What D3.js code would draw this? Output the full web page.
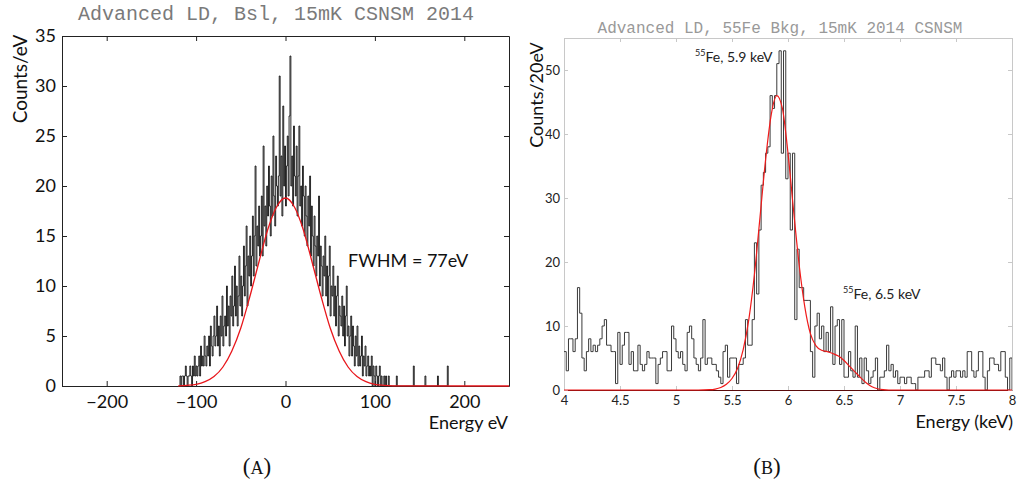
<!DOCTYPE html>
<html><head><meta charset="utf-8">
<script src="https://cdn.jsdelivr.net/npm/d3@7"></script>
<style>body{margin:0;background:#fff}svg{display:block}</style>
</head><body>
<svg id="chart" width="1022" height="483"></svg>
<script>
// ---------------- DATA ----------------
// Panel A: baseline histogram, 1 eV bins starting at -118 eV
const leftStart = -118;
const leftCounts = [
  1,0,1,1,0,1,2,1,0,1,
  1,2,1,0,2,1,3,1,2,1,
  2,3,1,4,2,3,2,5,3,2,
  4,3,5,2,6,4,3,5,7,4,
  5,8,4,6,3,7,5,9,4,6,
  7,5,10,6,8,4,9,7,11,6,
  8,12,7,10,6,9,13,8,11,7,
  10,14,9,12,16,8,13,11,15,10,
  13,17,11,15,22,12,16,14,18,13,
  15,19,13,24,16,18,14,20,17,22,
  18,15,21,17,25,19,16,23,20,18,
  21,31,19,23,17,28,20,24,18,22,
  25,19,27,33,20,23,18,26,21,19,
  24,17,21,26,18,20,16,22,19,15,
  20,17,14,19,16,21,13,18,15,12,
  17,14,11,15,13,19,10,14,12,9,
  13,11,15,9,12,8,11,14,7,10,
  9,12,7,10,6,9,11,5,8,7,
  6,9,5,8,4,7,10,5,6,3,
  5,7,3,6,4,2,5,3,6,2,
  4,2,3,5,1,3,2,4,1,2,
  3,1,2,1,3,0,2,1,0,2,
  1,0,1,2,0,1,0,0,1,0,
  1,0,0,1,0,0,0
];
const leftTailEnergies = [124, 143, 156, 170, 181];
const leftTailCounts   = [1, 2, 1, 1, 2];
const leftFitEnergy = [-120,-110,-100,-90,-80,-70,-60,-50,-40,-30,-20,-10,0,10,20,30,40,50,60,70,80,90,100,110,120,250];
const leftFitCounts = [0.02,0.07,0.17,0.43,0.94,1.9,3.5,5.8,8.9,12.3,15.6,17.9,18.8,17.9,15.6,12.3,8.9,5.8,3.5,1.9,0.94,0.43,0.17,0.07,0.02,0];
const leftXTicks = [-200,-100,0,100,200];
const leftYTicks = [0,5,10,15,20,25,30,35];

// Panel B: 55Fe spectrum, 20 eV bins from 4 keV
const rightStart = 4.0, rightBin = 0.02;
const rightCounts = [
  6,3,8,8,6,8,16,12,5,3,
  6,8,6,7,6,7,8,10,11,7,
  7,6,6,1,9,4,7,9,9,4,
  6,3,3,7,4,3,4,6,5,5,
  5,1,4,5,6,6,3,3,10,8,
  6,5,6,4,3,9,10,8,5,4,
  3,5,11,4,5,5,4,4,3,2,
  1,6,7,2,5,5,5,1,4,4,
  5,11,7,7,11,23,15,25,32,34,
  37,38,46,44,46,51,53,37,53,33,
  37,25,37,11,22,16,16,14,14,14,
  6,2,10,12,8,10,6,9,6,13,
  4,10,11,4,11,2,2,6,3,2,
  10,2,5,1,5,3,1,2,3,5,
  0,2,2,3,7,3,4,2,3,1,
  2,2,1,2,2,1,1,0,2,2,
  2,3,3,2,5,5,4,4,3,5,
  2,0,2,3,2,3,3,2,3,2,
  6,6,3,2,3,6,6,2,0,3,
  5,5,4,4,3,6,6,2,0,5
];
const rightFitEnergy = [4,5.2,5.3,5.35,5.4,5.45,5.5,5.55,5.6,5.65,5.7,5.75,5.8,5.85,5.9,5.95,6.0,6.05,6.1,6.15,6.2,6.25,6.3,6.35,6.4,6.45,6.5,6.55,6.6,6.65,6.7,6.75,6.8,6.85,6.9,8];
const rightFitCounts = [0,0,0.05,0.15,0.4,0.9,1.8,3.4,6.3,11,18,27,36,43,46,44,37,28,19.5,13,8.8,6.9,6.2,6.0,5.7,5.3,4.6,3.7,2.8,1.9,1.1,0.5,0.2,0.05,0,0];
const rightXTicks = [4,4.5,5,5.5,6,6.5,7,7.5,8];
const rightYTicks = [0,10,20,30,40,50];

// ---------------- DRAW ----------------
const svg = d3.select("#chart");
const sans = "Lato, 'Open Sans', sans-serif";
const mono = "'Liberation Mono', 'DejaVu Sans Mono', monospace";
const serif = "'Liberation Serif', 'DejaVu Serif', serif";
const fmt = d3.format("~g");

// ===== Panel A =====
const L = {x0: 62, x1: 509, y0: 36, y1: 386};
const xL = d3.scaleLinear().domain([-250, 250]).range([L.x0, L.x1]);
const yL = d3.scaleLinear().domain([0, 35]).range([L.y1, L.y0]);

svg.append("clipPath").attr("id", "clipL").append("rect")
  .attr("x", L.x0).attr("y", L.y0).attr("width", L.x1 - L.x0).attr("height", L.y1 - L.y0);

const tailMap = new Map(leftTailEnergies.map((e, i) => [e, leftTailCounts[i]]));
const lastE = d3.max(leftTailEnergies);
const leftBins = [[leftStart, 0]];
for (let e = leftStart; e <= lastE; e++) {
  const k = e - leftStart;
  const c = k < leftCounts.length ? leftCounts[k] : (tailMap.get(e) || 0);
  leftBins.push([e, c]);
}
leftBins.push([lastE + 1, 0]);

const gL = svg.append("g");
gL.append("path")
  .attr("clip-path", "url(#clipL)")
  .attr("d", d3.line().x(d => xL(d[0])).y(d => yL(d[1])).curve(d3.curveStepAfter)(leftBins))
  .attr("fill", "none").attr("stroke", "#111").attr("stroke-width", 0.9);

const axBL = gL.append("g").attr("transform", `translate(0,${L.y1})`)
  .call(d3.axisBottom(xL).tickValues(leftXTicks).tickFormat(fmt).tickSizeInner(-5).tickSizeOuter(0).tickPadding(9));
const axTL = gL.append("g").attr("transform", `translate(0,${L.y0})`)
  .call(d3.axisTop(xL).tickValues(leftXTicks).tickFormat("").tickSizeInner(-5).tickSizeOuter(0));
const axLL = gL.append("g").attr("transform", `translate(${L.x0},0)`)
  .call(d3.axisLeft(yL).tickValues(leftYTicks).tickFormat(fmt).tickSizeInner(-5).tickSizeOuter(0).tickPadding(6));
const axRL = gL.append("g").attr("transform", `translate(${L.x1},0)`)
  .call(d3.axisRight(yL).tickValues(leftYTicks).tickFormat("").tickSizeInner(-5).tickSizeOuter(0));
[axBL, axTL, axLL, axRL].forEach(a => {
  a.selectAll(".domain").attr("stroke", "#222");
  a.selectAll(".tick line").attr("stroke", "#222");
  a.selectAll("text").attr("font-family", sans).attr("font-size", 18).attr("fill", "#111");
});

gL.append("path")
  .attr("d", d3.line().x((d, i) => xL(leftFitEnergy[i])).y(d => yL(d)).curve(d3.curveMonotoneX)(leftFitCounts))
  .attr("fill", "none").attr("stroke", "#e8161b").attr("stroke-width", 1.3);

gL.append("text").attr("x", 276).attr("y", 20).attr("text-anchor", "middle")
  .attr("font-family", mono).attr("font-size", 20).attr("fill", "#7a7a7a")
  .text("Advanced LD, Bsl, 15mK CSNSM 2014");
gL.append("text").attr("transform", "translate(26.5,79) rotate(-90)").attr("text-anchor", "middle")
  .attr("font-family", sans).attr("font-size", 19).attr("fill", "#111").text("Counts/eV");
gL.append("text").attr("x", 508).attr("y", 429).attr("text-anchor", "end")
  .attr("font-family", sans).attr("font-size", 18).attr("fill", "#111").text("Energy eV");
gL.append("text").attr("x", 348).attr("y", 267)
  .attr("font-family", sans).attr("font-size", 18).attr("fill", "#111").text("FWHM = 77eV");
const capA = gL.append("text").attr("x", 257).attr("y", 474).attr("text-anchor", "middle")
  .attr("font-family", serif).attr("font-size", 23).attr("fill", "#111");
capA.append("tspan").text("(");
capA.append("tspan").attr("font-size", 18).text("A");
capA.append("tspan").text(")");

// ===== Panel B =====
const R = {x0: 564, x1: 1012, y0: 38, y1: 390};
const xR = d3.scaleLinear().domain([4, 8]).range([R.x0, R.x1]);
const yR = d3.scaleLinear().domain([0, 55]).range([R.y1, R.y0]);
const gR = svg.append("g");

svg.append("clipPath").attr("id", "clipR").append("rect")
  .attr("x", R.x0).attr("y", R.y0).attr("width", R.x1 - R.x0).attr("height", R.y1 - R.y0);

const light = "#c8c8c8";
gR.append("rect").attr("x", R.x0 + 0.5).attr("y", R.y0 + 0.5)
  .attr("width", R.x1 - R.x0).attr("height", R.y1 - R.y0)
  .attr("fill", "none").attr("stroke", light);

const axBR = gR.append("g").attr("transform", `translate(0,${R.y1})`)
  .call(d3.axisBottom(xR).tickValues(rightXTicks).tickFormat(fmt).tickSizeInner(-4).tickSizeOuter(0).tickPadding(6));
const axTR = gR.append("g").attr("transform", `translate(0,${R.y0})`)
  .call(d3.axisTop(xR).tickValues(rightXTicks).tickFormat("").tickSizeInner(-4).tickSizeOuter(0));
const axLR = gR.append("g").attr("transform", `translate(${R.x0},0)`)
  .call(d3.axisLeft(yR).tickValues(rightYTicks).tickFormat(fmt).tickSizeInner(-4).tickSizeOuter(0).tickPadding(4));
const axRR = gR.append("g").attr("transform", `translate(${R.x1},0)`)
  .call(d3.axisRight(yR).tickValues(rightYTicks).tickFormat("").tickSizeInner(-4).tickSizeOuter(0));
[axBR, axTR, axLR, axRR].forEach(a => {
  a.selectAll(".domain").attr("stroke", light);
  a.selectAll(".tick line").attr("stroke", light);
  a.selectAll("text").attr("font-family", sans).attr("font-size", 13).attr("fill", "#222");
});
axBR.select(".domain").attr("stroke", "#5a0a0a");

const rightBins = rightCounts.map((c, i) => [rightStart + i * rightBin, c]);
rightBins.push([rightStart + rightCounts.length * rightBin, 0]);
gR.append("path")
  .attr("clip-path", "url(#clipR)")
  .attr("d", d3.line().x(d => xR(d[0])).y(d => yR(d[1])).curve(d3.curveStepAfter)(rightBins))
  .attr("fill", "none").attr("stroke", "#3a3a3a").attr("stroke-width", 1);

gR.append("path")
  .attr("d", d3.line().x((d, i) => xR(rightFitEnergy[i])).y(d => yR(d)).curve(d3.curveMonotoneX)(rightFitCounts))
  .attr("fill", "none").attr("stroke", "#f01a1a").attr("stroke-width", 1.2);

gR.append("text").attr("x", 780).attr("y", 33).attr("text-anchor", "middle")
  .attr("font-family", mono).attr("font-size", 16).attr("fill", "#999")
  .text("Advanced LD, 55Fe Bkg, 15mK 2014 CSNSM");
gR.append("text").attr("transform", "translate(543,95) rotate(-90)").attr("text-anchor", "middle")
  .attr("font-family", sans).attr("font-size", 18).attr("fill", "#111").text("Counts/20eV");
gR.append("text").attr("x", 1013).attr("y", 428).attr("text-anchor", "end")
  .attr("font-family", sans).attr("font-size", 18).attr("fill", "#111").text("Energy (keV)");

function annot(x, y, rest) {
  const t = gR.append("text").attr("x", x).attr("y", y)
    .attr("font-family", sans).attr("font-size", 14).attr("fill", "#222");
  t.append("tspan").attr("font-size", 9).attr("dy", -6).text("55");
  t.append("tspan").attr("dy", 6).text(rest);
}
annot(695, 62, "Fe, 5.9 keV");
annot(843, 299, "Fe, 6.5 keV");

const capB = gR.append("text").attr("x", 767).attr("y", 474).attr("text-anchor", "middle")
  .attr("font-family", serif).attr("font-size", 23).attr("fill", "#111");
capB.append("tspan").text("(");
capB.append("tspan").attr("font-size", 18).text("B");
capB.append("tspan").text(")");
</script>
</body></html>
